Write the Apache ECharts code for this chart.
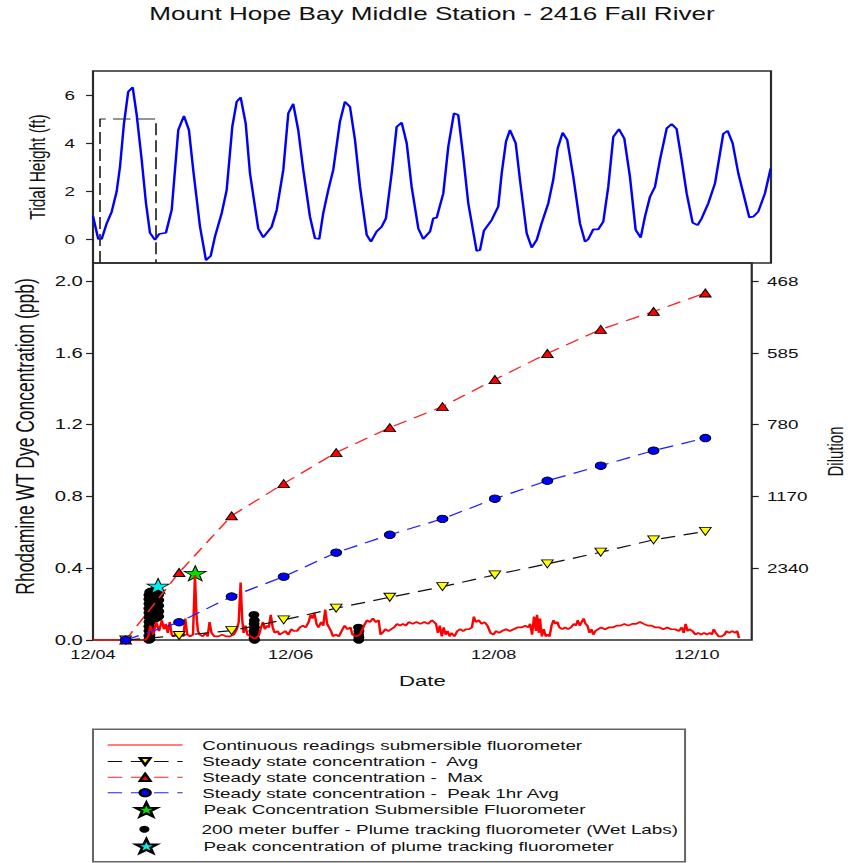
<!DOCTYPE html>
<html>
<head>
<meta charset="utf-8">
<title>Mount Hope Bay Middle Station - 2416 Fall River</title>
<script src="https://cdn.jsdelivr.net/npm/echarts@6/dist/echarts.min.js"></script>
<style>
  html, body { margin: 0; padding: 0; background: #fff; overflow: hidden; }
  /* The plot is laid out in a narrower box and widened horizontally,
     giving the wide-set lettering and oval markers of the original export. */
  #chart { width: 592px; height: 863px; transform: scaleX(1.449324); transform-origin: 0 0; }
</style>
</head>
<body>
<div id="chart"></div>
<script>
// ---- Data (time = day of December, with fraction of day) ----

// Tidal height at the station (ft)
const tideReadings = [
  [4.053, 0.95], [4.103, 0.00], [4.136, 0.00], [4.184, 0.65], [4.232, 1.14], [4.279, 1.97],
  [4.311, 3.00], [4.349, 4.80], [4.390, 6.14], [4.433, 6.32], [4.471, 5.17], [4.519, 3.29],
  [4.560, 1.49], [4.598, 0.26], [4.646, -0.04], [4.687, 0.21], [4.751, 0.26], [4.806, 1.21],
  [4.869, 4.54], [4.923, 5.13], [4.971, 4.54], [5.012, 2.88], [5.077, 0.51], [5.134, -0.88],
  [5.179, -0.71], [5.220, 0.10], [5.284, 1.07], [5.332, 2.04], [5.386, 4.68], [5.428, 5.72],
  [5.466, 5.90], [5.514, 4.82], [5.555, 2.74], [5.634, 0.44], [5.682, 0.07], [5.763, 0.51],
  [5.811, 1.21], [5.874, 2.88], [5.922, 5.24], [5.969, 5.63], [6.017, 4.54], [6.065, 2.88],
  [6.129, 0.93], [6.177, 0.03], [6.218, 0.00], [6.256, 1.07], [6.304, 2.04], [6.352, 2.88],
  [6.416, 4.89], [6.464, 5.72], [6.512, 5.51], [6.560, 4.13], [6.608, 2.18], [6.672, 0.17],
  [6.713, -0.11], [6.767, 0.31], [6.815, 0.51], [6.856, 0.86], [6.911, 2.74], [6.959, 4.68],
  [7.007, 4.85], [7.055, 3.99], [7.102, 2.18], [7.166, 0.44], [7.213, 0.00], [7.278, 0.31],
  [7.309, 0.86], [7.342, 0.89], [7.405, 1.90], [7.453, 3.85], [7.507, 5.24], [7.548, 5.17],
  [7.596, 3.43], [7.644, 1.49], [7.724, -0.50], [7.756, -0.46], [7.794, 0.35], [7.868, 0.79],
  [7.931, 1.35], [7.964, 2.74], [8.005, 4.06], [8.043, 4.54], [8.098, 3.99], [8.139, 2.46],
  [8.203, 0.24], [8.251, -0.36], [8.299, -0.04], [8.346, 0.65], [8.410, 1.49], [8.457, 2.46],
  [8.500, 3.78], [8.547, 4.43], [8.591, 4.13], [8.649, 2.60], [8.713, 0.65], [8.761, -0.11],
  [8.792, -0.01], [8.840, 0.40], [8.888, 0.40], [8.936, 0.72], [8.984, 2.18], [9.032, 4.26],
  [9.086, 4.58], [9.137, 4.19], [9.191, 2.60], [9.246, 0.38], [9.294, 0.06], [9.335, 0.93],
  [9.383, 1.76], [9.431, 2.18], [9.478, 3.29], [9.543, 4.61], [9.590, 4.79], [9.638, 4.58],
  [9.686, 3.29], [9.734, 1.90], [9.791, 0.68], [9.839, 0.58], [9.878, 0.86], [9.941, 1.49],
  [10.005, 2.32], [10.053, 3.57], [10.084, 4.38], [10.126, 4.51], [10.174, 3.99], [10.228, 2.74],
  [10.276, 1.90], [10.333, 0.90], [10.371, 0.93], [10.419, 1.14], [10.483, 1.90], [10.538, 2.94]
];

// Plume-tracking window outlined on the tide panel (day, ft)
const trackingWindow = [[4.120, -1], [4.120, 5], [4.656, 5], [4.656, -1]];

// Continuous readings, submersible fluorometer (ppb)
const continuousReadings = [
  [4.053, 0], [4.569, 0], [4.598, 0.02], [4.617, 0.08], [4.646, 0.03], [4.675, 0.10],
  [4.703, 0.05], [4.732, 0.11], [4.751, 0.06], [4.770, 0.09], [4.789, 0.04], [4.809, 0.10],
  [4.828, 0.03], [4.847, 0.02], [4.866, 0.03], [4.885, 0.02], [4.914, 0.03], [4.943, 0.02],
  [4.962, 0.12], [4.981, 0.03], [5.010, 0.02], [5.038, 0.03], [5.057, 0.36], [5.072, 0.14],
  [5.086, 0.05], [5.105, 0.03], [5.134, 0.02], [5.163, 0.04], [5.182, 0.02], [5.201, 0.10],
  [5.220, 0.04], [5.249, 0.02], [5.287, 0.02], [5.325, 0.03], [5.364, 0.02], [5.402, 0.02],
  [5.440, 0.03], [5.469, 0.06], [5.488, 0.10], [5.507, 0.32], [5.522, 0.12], [5.536, 0.04],
  [5.555, 0.08], [5.574, 0.03], [5.603, 0.02], [5.632, 0.01], [5.660, 0.01], [5.689, 0.03],
  [5.708, 0.07], [5.727, 0.10], [5.746, 0.06], [5.766, 0.08], [5.785, 0.07], [5.804, 0.14],
  [5.823, 0.07], [5.842, 0.04], [5.871, 0.05], [5.890, 0.03], [5.919, 0.04], [5.947, 0.05],
  [5.976, 0.03], [6.005, 0.06], [6.033, 0.05], [6.062, 0.05], [6.091, 0.07], [6.120, 0.08],
  [6.148, 0.07], [6.177, 0.10], [6.196, 0.14], [6.215, 0.12], [6.234, 0.15], [6.254, 0.09],
  [6.273, 0.07], [6.301, 0.10], [6.321, 0.08], [6.340, 0.17], [6.359, 0.09], [6.378, 0.07],
  [6.397, 0.05], [6.416, 0.02], [6.445, 0.03], [6.474, 0.02], [6.502, 0.05], [6.531, 0.08],
  [6.560, 0.06], [6.589, 0.07], [6.608, 0.03], [6.646, 0.02], [6.684, 0.03], [6.722, 0.08],
  [6.751, 0.11], [6.780, 0.10], [6.809, 0.12], [6.837, 0.10], [6.866, 0.11], [6.885, 0.03],
  [6.904, 0.04], [6.933, 0.06], [6.962, 0.05], [6.990, 0.06], [7.019, 0.07], [7.048, 0.09],
  [7.077, 0.08], [7.105, 0.09], [7.134, 0.08], [7.163, 0.10], [7.201, 0.09], [7.239, 0.10],
  [7.278, 0.09], [7.316, 0.10], [7.354, 0.09], [7.392, 0.11], [7.431, 0.09], [7.450, 0.04],
  [7.469, 0.08], [7.488, 0.02], [7.507, 0.07], [7.526, 0.03], [7.545, 0.05], [7.565, 0.02],
  [7.584, 0.04], [7.612, 0.02], [7.641, 0.05], [7.670, 0.06], [7.699, 0.05], [7.727, 0.06],
  [7.756, 0.06], [7.785, 0.07], [7.804, 0.13], [7.823, 0.10], [7.852, 0.11], [7.880, 0.09],
  [7.909, 0.10], [7.938, 0.08], [7.967, 0.04], [7.995, 0.03], [8.024, 0.05], [8.053, 0.04],
  [8.081, 0.05], [8.120, 0.06], [8.158, 0.05], [8.196, 0.06], [8.234, 0.07], [8.273, 0.07],
  [8.311, 0.08], [8.340, 0.07], [8.359, 0.09], [8.378, 0.03], [8.397, 0.13], [8.416, 0.05],
  [8.426, 0.14], [8.445, 0.04], [8.455, 0.12], [8.474, 0.02], [8.493, 0.06], [8.512, 0.02],
  [8.531, 0.03], [8.550, 0.02], [8.569, 0.08], [8.589, 0.11], [8.608, 0.09], [8.627, 0.10],
  [8.646, 0.07], [8.675, 0.06], [8.703, 0.07], [8.732, 0.06], [8.761, 0.07], [8.789, 0.09],
  [8.809, 0.08], [8.828, 0.11], [8.847, 0.08], [8.866, 0.10], [8.885, 0.12], [8.904, 0.09],
  [8.923, 0.08], [8.943, 0.04], [8.962, 0.06], [8.981, 0.03], [9.000, 0.05], [9.029, 0.06],
  [9.057, 0.07], [9.096, 0.06], [9.134, 0.07], [9.172, 0.07], [9.211, 0.08], [9.249, 0.08],
  [9.287, 0.09], [9.325, 0.08], [9.364, 0.09], [9.402, 0.09], [9.440, 0.10], [9.478, 0.09],
  [9.517, 0.08], [9.555, 0.08], [9.593, 0.07], [9.632, 0.07], [9.670, 0.06], [9.708, 0.07],
  [9.746, 0.06], [9.785, 0.06], [9.823, 0.05], [9.852, 0.07], [9.871, 0.04], [9.890, 0.09],
  [9.909, 0.05], [9.928, 0.06], [9.957, 0.05], [9.986, 0.03], [10.014, 0.04], [10.043, 0.03],
  [10.072, 0.04], [10.100, 0.03], [10.129, 0.04], [10.148, 0.03], [10.167, 0.06], [10.187, 0.04],
  [10.215, 0.02], [10.244, 0.02], [10.273, 0.03], [10.292, 0.05], [10.321, 0.04], [10.349, 0.05],
  [10.378, 0.04], [10.397, 0.05], [10.416, 0.01]
];

// Steady state concentrations, one value per tidal cycle (ppb)
const cycleTime = [4.375, 4.901, 5.418, 5.931, 6.448, 6.976, 7.495, 8.011, 8.528, 9.054, 9.574, 10.084];
const steadyAvg = [0, 0.025, 0.052, 0.112, 0.177, 0.238, 0.297, 0.363, 0.424, 0.489, 0.558, 0.605];
const steadyMax = [0, 0.376, 0.692, 0.871, 1.044, 1.183, 1.300, 1.451, 1.596, 1.730, 1.830, 1.933];
const steadyPeak1hr = [0, 0.099, 0.242, 0.353, 0.487, 0.586, 0.675, 0.787, 0.887, 0.971, 1.055, 1.125];

// 200 m buffer, plume tracking fluorometer (Wet Labs) (ppb)
const plumeReadings = [
  // first survey
  [4.603, 0.000], [4.603, 0.024], [4.604, 0.051], [4.603, 0.076], [4.604, 0.101], [4.603, 0.127],
  [4.604, 0.152], [4.603, 0.176], [4.604, 0.203], [4.603, 0.228], [4.604, 0.251], [4.613, 0.004],
  [4.614, 0.027], [4.613, 0.049], [4.614, 0.074], [4.613, 0.098], [4.614, 0.124], [4.613, 0.150],
  [4.614, 0.175], [4.613, 0.199], [4.614, 0.226], [4.613, 0.253], [4.612, 0.268],
  [4.625, 0.118], [4.626, 0.149], [4.625, 0.181], [4.626, 0.212], [4.625, 0.243], [4.626, 0.271],
  [4.638, 0.121], [4.637, 0.152], [4.638, 0.179], [4.637, 0.208], [4.638, 0.239], [4.637, 0.268],
  [4.651, 0.124], [4.650, 0.155], [4.651, 0.184], [4.650, 0.213], [4.651, 0.246], [4.650, 0.275],
  [4.664, 0.119], [4.663, 0.148], [4.664, 0.177], [4.663, 0.209], [4.664, 0.240], [4.663, 0.266],
  [4.677, 0.122], [4.676, 0.150], [4.677, 0.182], [4.676, 0.214], [4.677, 0.244], [4.676, 0.272],
  [4.690, 0.126], [4.689, 0.157], [4.690, 0.186], [4.689, 0.217], [4.690, 0.247], [4.689, 0.270],
  [4.700, 0.131], [4.701, 0.160], [4.700, 0.191], [4.701, 0.222], [4.700, 0.251],
  // second survey
  [5.638, 0.14], [5.642, 0.11], [5.640, 0.09], [5.644, 0.07], [5.638, 0.05], [5.642, 0.03],
  [5.640, 0.01], [5.644, 0.00],
  // third survey
  [6.668, 0.07], [6.672, 0.05], [6.668, 0.03], [6.672, 0.015], [6.670, 0.00]
];

// Peak concentrations (day, ppb)
const peakSubmersible = [[5.060, 0.372]];
const peakPlumeTracking = [[4.694, 0.301]];

// Axis ticks
const dateTicks = [4, 6, 8, 10];
const tideTicks = [0, 2, 4, 6];
const concTicks = [0, 0.4, 0.8, 1.2, 1.6, 2.0];
const dilutionTicks = [0.4, 0.8, 1.2, 1.6, 2.0];
const dilutionNumerator = 936;   // dilution = 936 / concentration

// ---- Presentation ----
const FONT = '"Liberation Sans", Arial, Helvetica, sans-serif';
const X_MIN = 4.053, X_MAX = 10.541;
const GRID_LEFT = 64.17, GRID_RIGHT = 60.03;
const STAR = 'path://M0,-10L2.35,-3.24L9.51,-3.09L3.8,1.24L5.88,8.09L0,4L-5.88,8.09L-3.8,1.24L-9.51,-3.09L-2.35,-3.24Z';

const NAMES = {
  cont: 'Continuous readings submersible fluorometer',
  avg: 'Steady state concentration -  Avg',
  max: 'Steady state concentration -  Max',
  peak: 'Steady state concentration -  Peak 1hr Avg',
  peakSub: 'Peak Concentration Submersible Fluorometer',
  plume: '200 meter buffer - Plume tracking fluorometer (Wet Labs)',
  peakPlume: 'Peak concentration of plume tracking fluorometer'
};

const pairs = (xs, ys) => xs.map((x, i) => [x, ys[i]]);
const dateLabel = v => '12/' + String(Math.round(v)).padStart(2, '0');

const tickLine = { lineStyle: { color: '#222', width: 1.2 } };

// Legend: one row per entry; icon-only rows are offset so the symbol sits mid-sample.
const LEGEND_LEFT = 73.8, SAMPLE_W = 51.7;
const legendRows = [
  { name: NAMES.cont, h: 9, cy: 745, hideMarker: true },
  { name: NAMES.avg, h: 9, cy: 761.5 },
  { name: NAMES.max, h: 9, cy: 777.3 },
  { name: NAMES.peak, h: 9, cy: 792.7 },
  { name: NAMES.peakSub, h: 14, cy: 808.5, icon: STAR },
  { name: NAMES.plume, h: 7, cy: 829.3, icon: 'circle' },
  { name: NAMES.peakPlume, h: 14, cy: 845, icon: STAR }
];

function legendEntry(r) {
  let item = r.name;
  if (r.icon) item = { name: r.name, icon: r.icon };
  if (r.hideMarker) item = { name: r.name, itemStyle: { opacity: 0 } };
  const shift = r.icon ? (SAMPLE_W - r.h) / 2 : 0;
  return {
    data: [item],
    orient: 'horizontal',
    left: LEGEND_LEFT + shift, top: r.cy - 7, padding: 0,
    itemWidth: SAMPLE_W, itemHeight: r.h,
    selectedMode: false,
    lineStyle: { width: 1 },
    textStyle: { fontFamily: FONT, fontSize: 13, color: '#111', lineHeight: 14, padding: [0, 0, 0, 8.6] }
  };
}

const chart = echarts.init(document.getElementById('chart'), null, { renderer: 'svg' });

chart.setOption({
  animation: false,
  backgroundColor: '#ffffff',
  textStyle: { fontFamily: FONT },
  title: {
    text: 'Mount Hope Bay Middle Station - 2416 Fall River',
    left: 103, top: 5, padding: 0,
    textStyle: { fontFamily: FONT, fontSize: 18, fontWeight: 'normal', color: '#111' }
  },
  grid: [
    { left: GRID_LEFT, right: GRID_RIGHT, top: 71, height: 192, show: true,
      borderColor: '#2a2a2a', borderWidth: 1.5, backgroundColor: 'transparent' },
    { left: GRID_LEFT, right: GRID_RIGHT, top: 263, height: 377, show: true,
      borderColor: '#2a2a2a', borderWidth: 1.5, backgroundColor: 'transparent' }
  ],
  xAxis: [
    { type: 'value', gridIndex: 0, min: X_MIN, max: X_MAX,
      axisLine: { show: false }, axisTick: { show: false }, axisLabel: { show: false },
      splitLine: { show: false } },
    { type: 'value', gridIndex: 1, min: X_MIN, max: X_MAX,
      axisLine: { show: false }, axisTick: { show: false }, splitLine: { show: false },
      axisLabel: {
        customValues: dateTicks.map(t => Math.max(t, X_MIN)),
        formatter: dateLabel, margin: 8,
        fontFamily: FONT, fontSize: 12.5, color: '#111'
      },
      name: 'Date', nameLocation: 'middle', nameGap: 33.5,
      nameTextStyle: { fontFamily: FONT, fontSize: 15.3, color: '#111' } }
  ],
  yAxis: [
    { type: 'value', gridIndex: 0, min: -1, max: 7,
      axisLine: { show: false }, splitLine: { show: false },
      axisTick: { customValues: tideTicks, length: 4.8, ...tickLine },
      axisLabel: { customValues: tideTicks, margin: 12.5, fontFamily: FONT, fontSize: 13, color: '#111' },
      name: 'Tidal Height (ft)', nameLocation: 'middle', nameRotate: 90, nameGap: 28.8,
      nameTextStyle: { fontFamily: FONT, fontSize: 15.5, color: '#111' } },
    { type: 'value', gridIndex: 1, min: 0, max: 2.1,
      axisLine: { show: false }, splitLine: { show: false },
      axisTick: { customValues: concTicks, length: 4.8, ...tickLine },
      axisLabel: { customValues: concTicks, formatter: v => v.toFixed(1), margin: 7,
        fontFamily: FONT, fontSize: 14, color: '#111' },
      name: 'Rhodamine WT Dye Concentration (ppb)', nameLocation: 'middle', nameRotate: 90,
      nameGap: 38,
      nameTextStyle: { fontFamily: FONT, fontSize: 17.5, color: '#111', padding: [0, 0, 0, 30] } },
    { type: 'value', gridIndex: 1, position: 'right', min: 0, max: 2.1,
      axisLine: { show: false }, splitLine: { show: false },
      axisTick: { customValues: dilutionTicks, length: 4.8, ...tickLine },
      axisLabel: { customValues: dilutionTicks, formatter: v => String(Math.round(dilutionNumerator / v)),
        margin: 10.5, fontFamily: FONT, fontSize: 13, color: '#111' },
      name: 'Dilution', nameLocation: 'middle', nameRotate: 90, nameGap: 50,
      nameTextStyle: { fontFamily: FONT, fontSize: 15, color: '#111' } }
  ],
  legend: legendRows.map(legendEntry),
  graphic: [{
    type: 'rect', silent: true,
    shape: { x: 64.17, y: 729.3, width: 408.5, height: 132.4 },
    style: { fill: 'none', stroke: '#666', lineWidth: 1.4 }
  }],
  series: [
    { type: 'line', xAxisIndex: 0, yAxisIndex: 0, data: tideReadings, symbol: 'none',
      lineStyle: { color: '#0000ff', width: 1.7 }, silent: true },
    { type: 'line', xAxisIndex: 0, yAxisIndex: 0, data: trackingWindow, symbol: 'none',
      lineStyle: { color: '#2a2a2a', width: 1.2, type: [12, 5] }, silent: true },
    { name: NAMES.cont, type: 'line', xAxisIndex: 1, yAxisIndex: 1, data: continuousReadings,
      symbol: 'none', itemStyle: { color: '#ff0000' },
      lineStyle: { color: '#ff0000', width: 1.7 }, silent: true },
    { name: NAMES.avg, type: 'line', xAxisIndex: 1, yAxisIndex: 1, data: pairs(cycleTime, steadyAvg),
      symbol: 'triangle', symbolRotate: 180, symbolSize: 8,
      itemStyle: { color: '#ffff00', borderColor: '#000', borderWidth: 0.8 },
      lineStyle: { color: '#111', width: 1.2, type: [10, 6] } },
    { name: NAMES.max, type: 'line', xAxisIndex: 1, yAxisIndex: 1, data: pairs(cycleTime, steadyMax),
      symbol: 'triangle', symbolSize: 8,
      itemStyle: { color: '#ff0000', borderColor: '#000', borderWidth: 0.8 },
      lineStyle: { color: '#ff2020', width: 1.2, type: [10, 6] } },
    { name: NAMES.peak, type: 'line', xAxisIndex: 1, yAxisIndex: 1, data: pairs(cycleTime, steadyPeak1hr),
      symbol: 'circle', symbolSize: 7.5,
      itemStyle: { color: '#0000ff', borderColor: '#000', borderWidth: 0.8 },
      lineStyle: { color: '#2020ff', width: 1.2, type: [10, 6] } },
    { name: NAMES.plume, type: 'scatter', xAxisIndex: 1, yAxisIndex: 1, data: plumeReadings,
      symbol: 'circle', symbolSize: 7.5, itemStyle: { color: '#000', opacity: 1 } },
    { name: NAMES.peakSub, type: 'scatter', xAxisIndex: 1, yAxisIndex: 1, data: peakSubmersible,
      symbol: STAR, symbolSize: 15,
      itemStyle: { color: '#00e000', borderColor: '#000', borderWidth: 0.8, opacity: 1 } },
    { name: NAMES.peakPlume, type: 'scatter', xAxisIndex: 1, yAxisIndex: 1, data: peakPlumeTracking,
      symbol: STAR, symbolSize: 15,
      itemStyle: { color: '#00f0f0', borderColor: '#000', borderWidth: 0.8, opacity: 1 } }
  ]
});
</script>
</body>
</html>
